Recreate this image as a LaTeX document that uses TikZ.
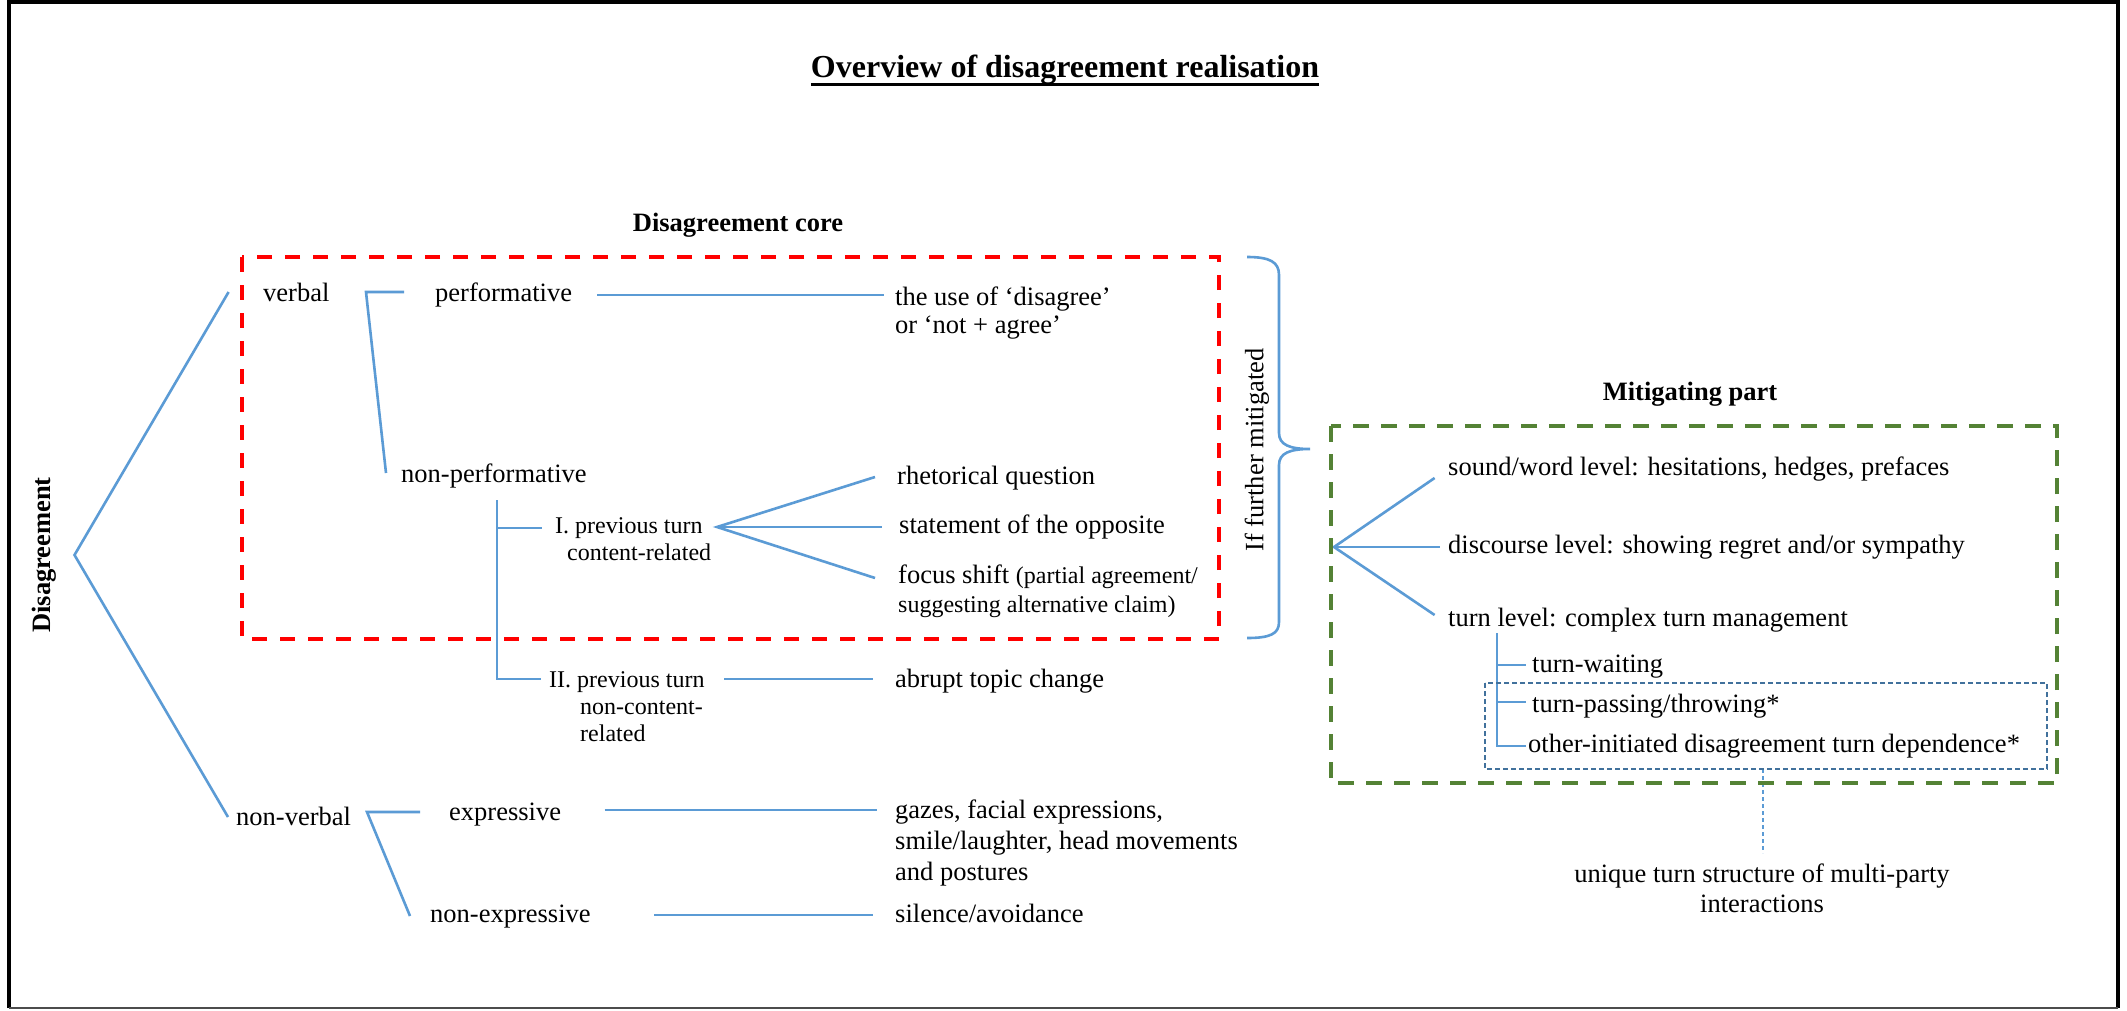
\documentclass[tikz,border=0pt]{standalone}
\usepackage{fontspec}
\setmainfont{Liberation Serif}
\definecolor{linkblue}{HTML}{5B9BD5}
\definecolor{coreRed}{HTML}{FF0000}
\definecolor{mitGreen}{HTML}{548235}
\definecolor{boxBlue}{HTML}{41719C}
\newcommand\stack[1]{\begin{tabular}[t]{@{}l@{}}#1\end{tabular}}
\newcommand\cstack[1]{\begin{tabular}[t]{@{}c@{}}#1\end{tabular}}
\newcommand\mainsize{\fontsize{26.5}{29}\selectfont}
\newcommand\smallsize{\fontsize{24}{27}\selectfont}
\begin{document}
\begin{tikzpicture}[x=1pt,y=-1pt,
  lbl/.style={inner sep=0pt, anchor=base west, font=\mainsize},
  sml/.style={inner sep=0pt, anchor=base west, font=\smallsize},
  head/.style={inner sep=0pt, anchor=base, font=\bfseries\fontsize{26.5}{30}\selectfont},
  link/.style={draw=linkblue, line width=2.6pt},
  twig/.style={draw=linkblue, line width=2pt},
  coreframe/.style={draw=coreRed, line width=4.5pt, dash pattern=on 15pt off 13pt},
  mitframe/.style={draw=mitGreen, line width=4.5pt, dash pattern=on 16pt off 12pt},
  multiframe/.style={draw=boxBlue, line width=2pt, dash pattern=on 5pt off 3pt},
]
\useasboundingbox (0,0) rectangle (2127,1011);
\fill[white] (0,0) rectangle (2127,1011);

% outer frame
\draw[line width=4pt] (9,1008) -- (9,2) -- (2118,2) -- (2118,1008);
\draw[line width=2pt, black!70] (9,1008) -- (2118,1008);

% headings
\node[inner sep=0pt, anchor=base, font=\bfseries\fontsize{32}{36}\selectfont] (title) at (1065,78) {Overview of disagreement realisation};
\draw[line width=3pt] ([yshift=-7pt]title.base west) -- ([yshift=-7pt]title.base east);
\node[head] (corehead) at (738,231) {Disagreement core};
\node[head] (mithead) at (1690,400) {Mitigating part};

\node[inner sep=0pt, rotate=90, font=\bfseries\fontsize{26.5}{30}\selectfont] (root) at (44,555) {Disagreement};
\node[inner sep=0pt, rotate=90, font=\mainsize] (further) at (1257,450) {If further mitigated};

% disagreement core labels
\node[lbl] (verbal) at (263,301) {verbal};
\node[lbl] (perf) at (435,301) {performative};
\node[lbl, font=\fontsize{26.5}{28.5}\selectfont] (useof) at (895,305) {\stack{the use of ‘disagree’\\or ‘not + agree’}};
\node[lbl] (nonperf) at (401,482) {non-performative};
\node[sml] (prevI) at (555,533) {\stack{I. previous turn\\\hspace{12pt}content-related}};
\node[lbl] (rhet) at (897,484) {rhetorical question};
\node[lbl] (stat) at (899,533) {statement of the opposite};
\node[lbl] (focus) at (898,583) {\stack{focus shift {\smallsize(partial agreement/}\\{\smallsize suggesting alternative claim)}}};
\node[sml] (prevII) at (549,687) {\stack{II. previous turn\\\hspace{31pt}non-content-\\\hspace{31pt}related}};
\node[lbl] (abrupt) at (895,687) {abrupt topic change};
\node[lbl] (nonverbal) at (236,825) {non-verbal};
\node[lbl] (expr) at (449,820) {expressive};
\node[lbl, font=\fontsize{26.5}{31}\selectfont] (gazes) at (895,818) {\stack{gazes, facial expressions,\\smile/laughter, head movements\\and postures}};
\node[lbl] (nonexpr) at (430,922) {non-expressive};
\node[lbl] (silence) at (895,922) {silence/avoidance};

% mitigating part labels
\node[lbl] (sound) at (1448,475) {sound/word level: hesitations, hedges, prefaces};
\node[lbl] (discourse) at (1448,553) {discourse level: showing regret and/or sympathy};
\node[lbl] (turnlevel) at (1448,626) {turn level: complex turn management};
\node[lbl] (waiting) at (1532,672) {turn-waiting};
\node[lbl] (passing) at (1532,712) {turn-passing/throwing*};
\node[lbl] (other) at (1528,752) {other-initiated disagreement turn dependence*};
\node[lbl, anchor=base, font=\fontsize{26.5}{30}\selectfont] (unique) at (1762,882) {\cstack{unique turn structure of multi-party\\interactions}};

% connector end points
\coordinate (rootTip) at (74.5,555);
\coordinate (verbalEnd) at (228.6,292);
\coordinate (nonverbalEnd) at (228,817);
\coordinate (vA) at (404,292);
\coordinate (vB) at (366,292);
\coordinate (vC) at (386,473);
\coordinate (perfA) at (597,295);
\coordinate (perfB) at (883.7,295);
\coordinate (npTop) at (497,500);
\coordinate (npBend) at (497,679);
\coordinate (npII) at (541,679);
\coordinate (npIa) at (497,528);
\coordinate (npIb) at (542,528);
\coordinate (fanI) at (717,527);
\coordinate (fanRhet) at (875,477);
\coordinate (fanStat) at (881.6,527);
\coordinate (fanFocus) at (875,578);
\coordinate (IIa) at (724,679);
\coordinate (IIb) at (873,679);
\coordinate (nvA) at (420,812);
\coordinate (nvB) at (367,812);
\coordinate (nvC) at (410,916);
\coordinate (exA) at (604.5,810);
\coordinate (exB) at (876.5,810);
\coordinate (neA) at (654,915);
\coordinate (neB) at (873,915);
\coordinate (fanM) at (1334,547);
\coordinate (fanSound) at (1434.6,478);
\coordinate (fanDisc) at (1440,547);
\coordinate (fanTurn) at (1434.6,615);
\coordinate (tTop) at (1497,633);
\coordinate (tBot) at (1497,746);
\coordinate (tWait) at (1526,665);
\coordinate (tPass) at (1526,702);
\coordinate (tOther) at (1526,746);
\coordinate (multiTop) at (1763,769);
\coordinate (multiBot) at (1763,853);

% tree connectors
\draw[link] (verbalEnd) -- (rootTip) -- (nonverbalEnd);
\draw[link] (vA) -- (vB) -- (vC);
\draw[link] (perfA) -- (perfB);
\draw[link] (npTop) -- (npBend) -- (npII);
\draw[link] (npIa) -- (npIb);
\draw[link] (fanRhet) -- (fanI) -- (fanFocus);
\draw[link] (fanI) -- (fanStat);
\draw[link] (IIa) -- (IIb);
\draw[link] (nvA) -- (nvB) -- (nvC);
\draw[link] (exA) -- (exB);
\draw[link] (neA) -- (neB);
\draw[link] (fanSound) -- (fanM) -- (fanTurn);
\draw[link] (fanM) -- (fanDisc);
\draw[twig] (tTop) -- (tBot) -- (tOther);
\draw[twig] (tWait -| tTop) -- (tWait);
\draw[twig] (tPass -| tTop) -- (tPass);
\draw[draw=linkblue, line width=1.5pt, dash pattern=on 4pt off 3pt] (multiTop) -- (multiBot);

% brace joining the core to the mitigating part
\draw[link] (1247,257) .. controls (1270,257) and (1279,262) .. (1279,275)
  -- (1279,433) .. controls (1279,445) and (1290,449) .. (1310,449)
  .. controls (1290,449) and (1279,453) .. (1279,465)
  -- (1279,622) .. controls (1279,634) and (1270,638) .. (1247,638);

% grouping frames
\draw[coreframe] (242,257) rectangle (1219,639);
\draw[mitframe] (1331,426) rectangle (2057,783);
\draw[multiframe] (1485,683) rectangle (2047,769);
\end{tikzpicture}
\end{document}
